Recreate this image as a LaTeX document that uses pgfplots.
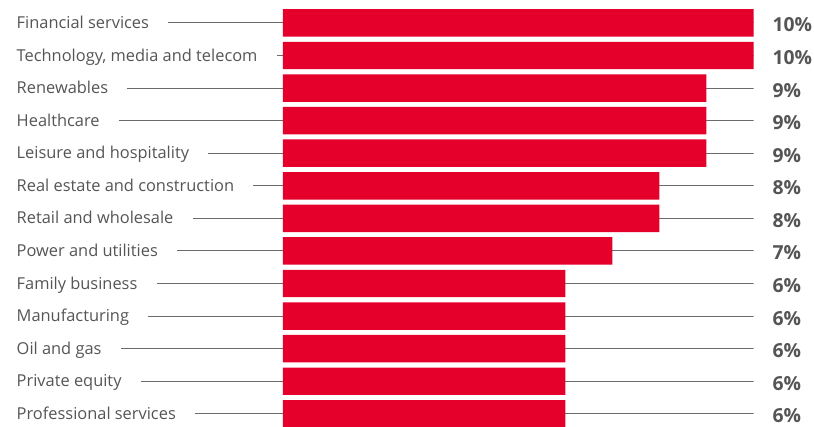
\documentclass[border=0pt]{standalone}
\usepackage{pgfplots}
\pgfplotsset{compat=1.18}
\usepackage{fontspec}
\setmainfont{Open Sans}
\definecolor{barred}{HTML}{E4002B}
\definecolor{leadgray}{HTML}{6B6B6B}
\definecolor{labgray}{HTML}{555555}
% label with a leader line running to the bar start
\newcommand{\lab}[1]{\makebox[199.5pt][l]{#1\hspace{14.5pt}{\color{leadgray}\leaders\hrule height 4.6pt depth -3.85pt\hfill}}}
\begin{document}
\begin{tikzpicture}
\begin{axis}[
    at={(212.25pt,-0.375pt)}, anchor=south west,
    scale only axis,
    width=352.9pt, height=313.7pt,
    xmin=0, xmax=10,
    ymin=-0.42, ymax=12.42,
    y dir=reverse,
    axis line style={draw=none},
    tick style={draw=none},
    xtick=\empty,
    ytick={0,...,12},
    yticklabels={
        {\lab{Financial services}},
        {\lab{Technology, media and telecom}},
        {\lab{Renewables}},
        {\lab{Healthcare}},
        {\lab{Leisure and hospitality}},
        {\lab{Real estate and construction}},
        {\lab{Retail and wholesale}},
        {\lab{Power and utilities}},
        {\lab{Family business}},
        {\lab{Manufacturing}},
        {\lab{Oil and gas}},
        {\lab{Private equity}},
        {\lab{Professional services}}
    },
    yticklabel style={anchor=base east, inner sep=0pt, yshift=-4.2pt,
        font=\fontsize{12.3pt}{15pt}\selectfont, text=labgray},
    clip=false,
]
% reference line to the 10% mark, carries the value labels
\addplot[xbar, bar shift=0pt, bar width=0pt, draw=leadgray, line width=0.75pt,
    nodes near coords, point meta=explicit symbolic,
    every node near coord/.append style={anchor=base west, xshift=13.9pt,
        yshift=-6.75pt, inner sep=0pt, text=labgray,
        font=\fontsize{14.5pt}{16pt}\selectfont\bfseries}]
coordinates {
    (10,0) [10\%] (10,1) [10\%] (10,2) [9\%] (10,3) [9\%] (10,4) [9\%]
    (10,5) [8\%] (10,6) [8\%] (10,7) [7\%] (10,8) [6\%] (10,9) [6\%]
    (10,10) [6\%] (10,11) [6\%] (10,12) [6\%]
};
\addplot[xbar, bar shift=0pt, bar width=20.6pt, fill=barred, draw=none]
coordinates {
    (10,0) (10,1) (9,2) (9,3) (9,4) (8,5) (8,6) (7,7) (6,8) (6,9)
    (6,10) (6,11) (6,12)
};
\end{axis}
\pgfresetboundingbox
\useasboundingbox (0,0) rectangle (610.5pt,320.25pt);
\end{tikzpicture}
\end{document}
